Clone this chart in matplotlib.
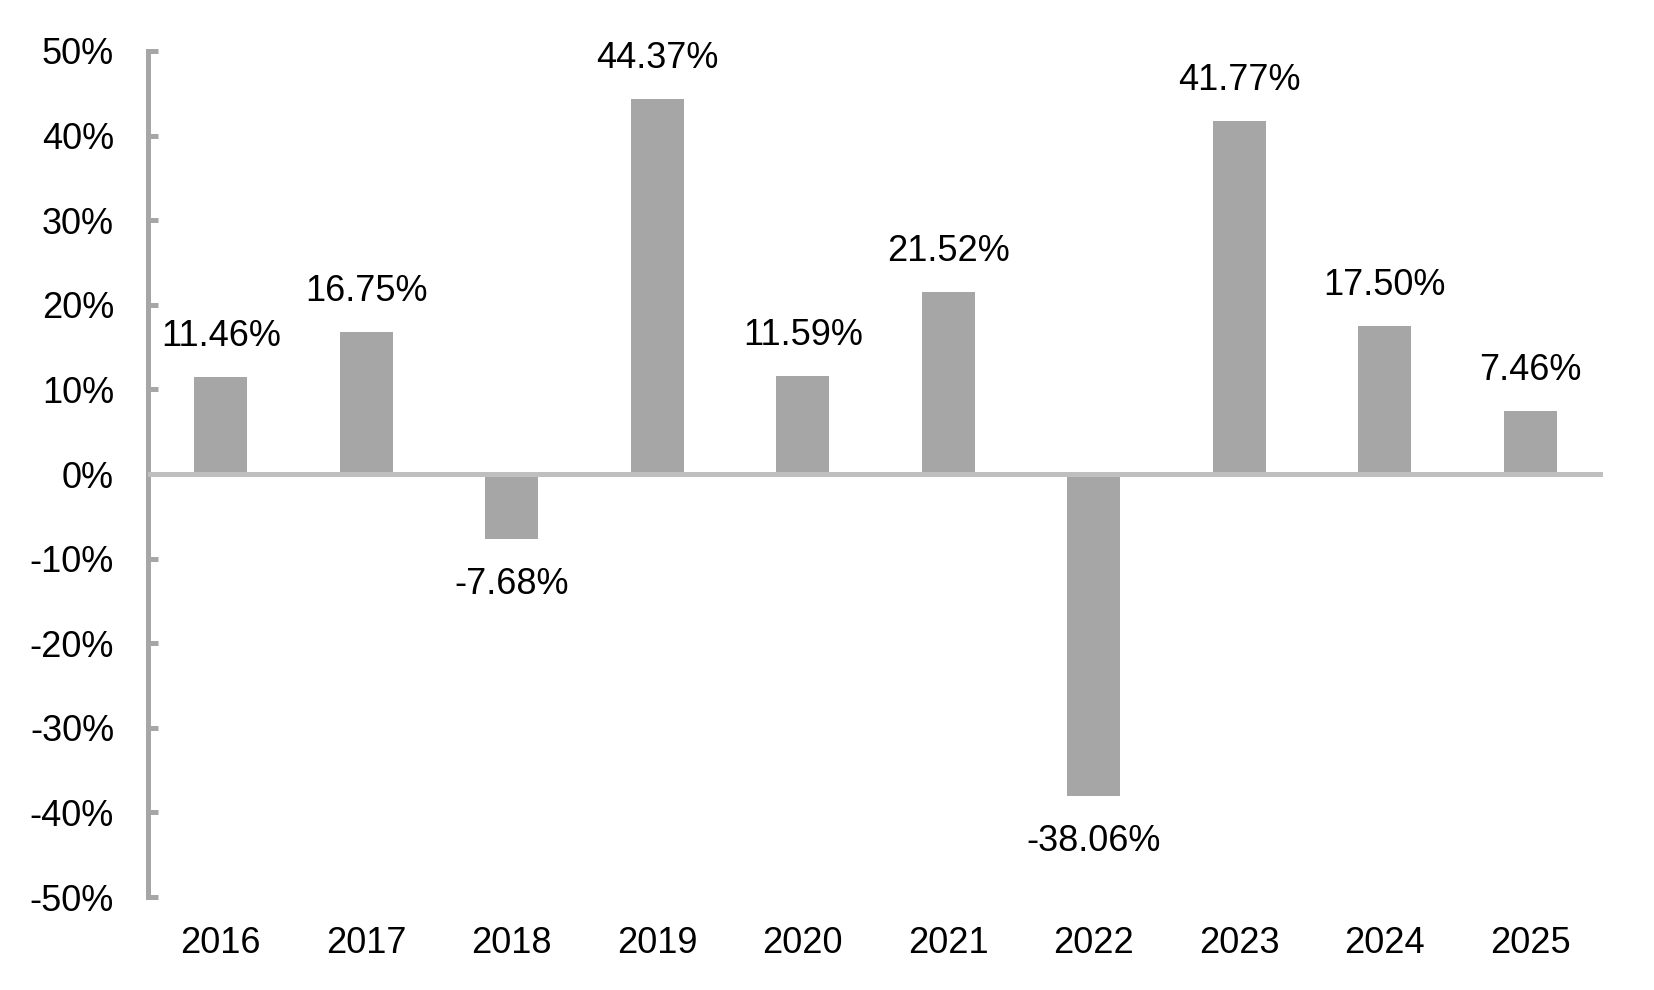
import numpy as np
import matplotlib
matplotlib.use("Agg")
import matplotlib.pyplot as plt
from matplotlib.ticker import FuncFormatter

# datos del grafico
years = ["2016", "2017", "2018", "2019", "2020", "2021", "2022", "2023", "2024", "2025"]
returns = [11.46, 16.75, -7.68, 44.37, 11.59, 21.52, -38.06, 41.77, 17.50, 7.46]
y_ticks = [-50, -40, -30, -20, -10, 0, 10, 20, 30, 40, 50]

plt.rcParams["font.family"] = ["Liberation Sans", "DejaVu Sans"]

bar_color = "#A6A6A6"
axis_color = "#A6A6A6"
zero_color = "#BFBFBF"
fs = 26

fig = plt.figure(figsize=(16.54, 9.9), dpi=100)
ax = fig.add_axes([0.0895, 0.0939, 0.8797, 0.8546])

x = np.arange(len(years))
bars = ax.bar(x, returns, width=0.364, color=bar_color, zorder=2)

# linea del cero
ax.axhline(0, color=zero_color, lw=3.6, zorder=3)

# etiquetas de cada barra
for xi, v in zip(x, returns):
    if v >= 0:
        ax.annotate(f"{v:.2f}%", (xi, v), xytext=(0, 16.5), textcoords="offset points",
                    ha="center", va="bottom", fontsize=fs, color="black")
    else:
        ax.annotate(f"{v:.2f}%", (xi, v), xytext=(0, -20), textcoords="offset points",
                    ha="center", va="top", fontsize=fs, color="black")

ax.set_xlim(-0.5, len(years) - 0.5)
ax.set_ylim(-50, 50)
ax.set_yticks(y_ticks)
ax.yaxis.set_major_formatter(FuncFormatter(lambda v, p: f"{v:.0f}%"))
ax.set_xticks(x)
ax.set_xticklabels(years)

for s in ["top", "right", "bottom"]:
    ax.spines[s].set_visible(False)
ax.spines["left"].set_color(axis_color)
ax.spines["left"].set_linewidth(3.6)

ax.tick_params(axis="y", direction="in", length=7.2, width=3.6, color=axis_color,
               labelsize=fs, pad=24.5)
ax.tick_params(axis="x", length=0, labelsize=fs, pad=21)

plt.savefig("out.png", dpi=100)
